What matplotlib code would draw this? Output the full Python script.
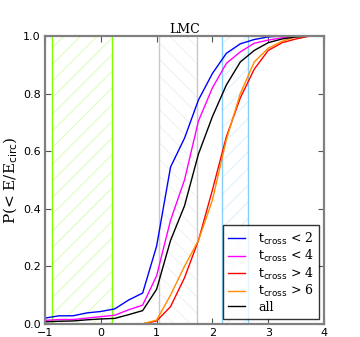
import numpy as np
import matplotlib
matplotlib.use("Agg")
import matplotlib.pyplot as plt

# energy grid (log E/E_circ) shared by the curves
x_full = [-1.0, -0.75, -0.5, -0.25, 0.0, 0.25, 0.5, 0.75, 1.0, 1.25, 1.5,
          1.75, 2.0, 2.25, 2.5, 2.75, 3.0, 3.25, 3.5, 3.75, 4.0]
x_late = [0.75, 1.0, 1.25, 1.5, 1.75, 2.0, 2.25, 2.5, 2.75, 3.0, 3.25,
          3.5, 3.75, 4.0]

p_lt2 = [0.020, 0.028, 0.028, 0.038, 0.043, 0.052, 0.083, 0.107, 0.27, 0.545,
         0.645, 0.778, 0.87, 0.94, 0.973, 0.988, 0.997, 1.0, 1.0, 1.0, 1.0]
p_lt4 = [0.012, 0.015, 0.015, 0.020, 0.025, 0.030, 0.049, 0.065, 0.167, 0.36,
         0.50, 0.705, 0.82, 0.905, 0.945, 0.975, 0.986, 0.994, 0.998, 1.0, 1.0]
p_all = [0.007, 0.009, 0.010, 0.014, 0.017, 0.019, 0.032, 0.046, 0.12, 0.29,
         0.41, 0.59, 0.72, 0.83, 0.91, 0.95, 0.977, 0.99, 0.997, 1.0, 1.0]
p_gt4 = [0.0, 0.010, 0.06, 0.16, 0.29, 0.465, 0.65, 0.785, 0.885, 0.95,
         0.977, 0.99, 1.0, 1.0]
p_gt6 = [0.0, 0.013, 0.10, 0.20, 0.29, 0.43, 0.64, 0.80, 0.91, 0.958,
         0.982, 0.997, 1.0, 1.0]

# shaded bands: (left, right, colour, hatch, hatch alpha)
bands = [(-0.87, 0.2, "#7fff00", "//", 0.35),
         (1.05, 1.73, "#c8c8c8", "\\\\", 0.3),
         (2.18, 2.63, "#87cefa", "//", 0.35)]

plt.rcParams["hatch.linewidth"] = 0.6

fig = plt.figure(figsize=(3.6, 3.37), dpi=100)
ax = fig.add_axes([0.125, 0.039, 0.775, 0.854])

for lo, hi, col, hat, a in bands:
    ax.axvspan(lo, hi, facecolor="none", edgecolor=col, hatch=hat,
               linewidth=0, alpha=a)
    ax.axvline(lo, color=col, lw=1.0)
    ax.axvline(hi, color=col, lw=1.0)

lbl = r"$\mathrm{t_{cross}}$"
ax.plot(x_full, p_lt2, color="blue", lw=1.0, label=lbl + " < 2")
ax.plot(x_full, p_lt4, color="magenta", lw=1.0, label=lbl + " < 4")
ax.plot(x_late, p_gt4, color="red", lw=1.0, label=lbl + " > 4")
ax.plot(x_late, p_gt6, color="darkorange", lw=1.0, label=lbl + " > 6")
ax.plot(x_full, p_all, color="black", lw=1.0, label="all")

ax.set_xlim(-1, 4)
ax.set_ylim(0, 1)
ax.set_xticks([-1, 0, 1, 2, 3, 4])
ax.set_xticklabels(["\u22121", "0", "1", "2", "3", "4"])
ax.set_yticks([0.0, 0.2, 0.4, 0.6, 0.8, 1.0])
ax.tick_params(direction="in", top=True, right=True, length=4,
               width=0.8, color="#555555", labelsize=8, pad=3)
for s in ax.spines.values():
    s.set_color("#808080")
    s.set_linewidth(1.6)

ax.set_title("LMC", family="DejaVu Serif", fontsize=9, pad=2)
ax.set_ylabel(r"P(< E/E$_\mathrm{circ}$)", family="DejaVu Serif",
              fontsize=11, labelpad=2)

leg = ax.legend(loc="lower right", frameon=True, fancybox=False,
                handlelength=1.4, borderpad=0.4, labelspacing=0.12,
                handletextpad=1.0, borderaxespad=0.4,
                prop={"family": "DejaVu Serif", "size": 9})
leg.get_frame().set_edgecolor("black")
leg.get_frame().set_linewidth(1.0)

fig.savefig("out.png", dpi=100)
